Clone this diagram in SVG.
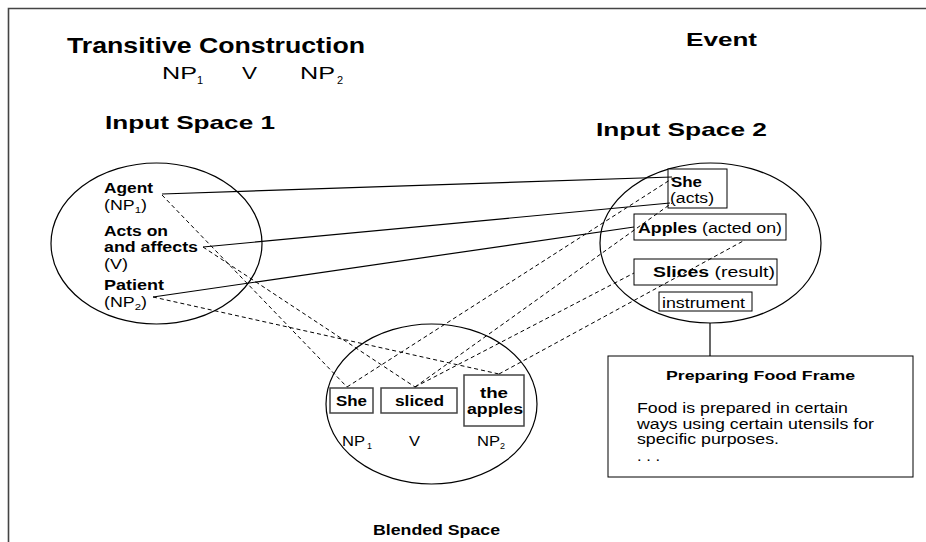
<svg xmlns="http://www.w3.org/2000/svg" width="926" height="542" viewBox="0 0 926 542">
  <style>
    text { font-family: "Liberation Sans", Arial, sans-serif; fill: #000; }
    .b { font-weight: bold; }
    .space { fill: none; stroke: #000; stroke-width: 1.2; }
    .box { fill: #fff; stroke: #000; stroke-width: 1; }
    .bbox { fill: #fff; stroke: #444; stroke-width: 1.5; }
    .solid { stroke: #000; stroke-width: 1.2; fill: none; }
    .dash { stroke: #000; stroke-width: 1; stroke-dasharray: 4 3; fill: none; }
    .sub { font-size: 9px; }
  </style>

  <rect width="926" height="542" fill="#fff"/>
  <!-- slide frame -->
  <path d="M8.5 542 V8.5 H926" fill="none" stroke="#444" stroke-width="1.6"/>

  <!-- headings -->
  <g id="headings">
    <text class="b" x="67" y="53" font-size="22" textLength="298" lengthAdjust="spacingAndGlyphs">Transitive Construction</text>
    <text x="162" y="79" font-size="16" textLength="35" lengthAdjust="spacingAndGlyphs">NP</text>
    <text x="197" y="84" font-size="11">1</text>
    <text x="242" y="79" font-size="16" textLength="15" lengthAdjust="spacingAndGlyphs">V</text>
    <text x="300" y="79" font-size="16" textLength="35" lengthAdjust="spacingAndGlyphs">NP</text>
    <text x="337" y="84" font-size="11">2</text>
    <text class="b" x="686" y="46" font-size="19" textLength="71" lengthAdjust="spacingAndGlyphs">Event</text>
    <text class="b" x="105" y="129" font-size="19" textLength="170" lengthAdjust="spacingAndGlyphs">Input Space 1</text>
    <text class="b" x="596" y="136" font-size="19" textLength="171" lengthAdjust="spacingAndGlyphs">Input Space 2</text>
  </g>

  <!-- Input Space 1 -->
  <g id="input-space-1">
    <ellipse class="space" cx="156.5" cy="243.5" rx="105.5" ry="80.5"/>
    <text class="b" x="104" y="193" font-size="14" textLength="49" lengthAdjust="spacingAndGlyphs">Agent</text>
    <text x="104" y="210" font-size="14" textLength="43" lengthAdjust="spacingAndGlyphs">(NP<tspan class="sub" dy="3">1</tspan><tspan dy="-3">)</tspan></text>
    <text class="b" x="104" y="236" font-size="14" textLength="64" lengthAdjust="spacingAndGlyphs">Acts on</text>
    <text class="b" x="104" y="252" font-size="14" textLength="94" lengthAdjust="spacingAndGlyphs">and affects</text>
    <text x="104" y="269" font-size="14" textLength="24" lengthAdjust="spacingAndGlyphs">(V)</text>
    <text class="b" x="104" y="290" font-size="14" textLength="60" lengthAdjust="spacingAndGlyphs">Patient</text>
    <text x="104" y="307" font-size="14" textLength="43" lengthAdjust="spacingAndGlyphs">(NP<tspan class="sub" dy="3">2</tspan><tspan dy="-3">)</tspan></text>
  </g>

  <!-- Input Space 2 -->
  <g id="input-space-2">
    <ellipse class="space" cx="710.5" cy="243" rx="110.5" ry="80"/>
    <rect class="box" x="668" y="169" width="59" height="39"/>
    <text class="b" x="671" y="187" font-size="14" textLength="31" lengthAdjust="spacingAndGlyphs">She</text>
    <text x="670" y="203" font-size="14" textLength="44" lengthAdjust="spacingAndGlyphs">(acts)</text>
    <rect class="box" x="634" y="214" width="152" height="26"/>
    <text x="638" y="233" font-size="14" textLength="144" lengthAdjust="spacingAndGlyphs"><tspan class="b">Apples</tspan> (acted on)</text>
    <rect class="box" x="634" y="259" width="143" height="26"/>
    <text x="653" y="277" font-size="14" textLength="122" lengthAdjust="spacingAndGlyphs"><tspan class="b">Slices</tspan> (result)</text>
    <rect class="box" x="659" y="292" width="93" height="19"/>
    <text x="662" y="308" font-size="14" textLength="83" lengthAdjust="spacingAndGlyphs">instrument</text>
  </g>

  <!-- Blended Space -->
  <g id="blended-space">
    <ellipse class="space" cx="431.5" cy="404" rx="105.5" ry="80"/>
    <rect class="bbox" x="330" y="388" width="43" height="25"/>
    <text class="b" x="336" y="406" font-size="14" textLength="31" lengthAdjust="spacingAndGlyphs">She</text>
    <rect class="bbox" x="381" y="388" width="76" height="25"/>
    <text class="b" x="395" y="406" font-size="14" textLength="49" lengthAdjust="spacingAndGlyphs">sliced</text>
    <rect class="bbox" x="464" y="375" width="60" height="51"/>
    <text class="b" x="480" y="398" font-size="14" textLength="28" lengthAdjust="spacingAndGlyphs">the</text>
    <text class="b" x="467" y="414" font-size="14" textLength="56" lengthAdjust="spacingAndGlyphs">apples</text>
    <text x="342" y="446" font-size="15" textLength="23" lengthAdjust="spacingAndGlyphs">NP</text>
    <text class="sub" x="367" y="449">1</text>
    <text x="409" y="446" font-size="15" textLength="11" lengthAdjust="spacingAndGlyphs">V</text>
    <text x="477" y="446" font-size="15" textLength="23" lengthAdjust="spacingAndGlyphs">NP</text>
    <text class="sub" x="500" y="449">2</text>
    <text class="b" x="373" y="535" font-size="14" textLength="127" lengthAdjust="spacingAndGlyphs">Blended Space</text>
  </g>

  <!-- Preparing Food Frame -->
  <g id="food-frame">
    <rect class="box" x="608" y="356" width="305" height="121" stroke-width="1.3"/>
    <text class="b" x="666" y="380" font-size="13" textLength="189" lengthAdjust="spacingAndGlyphs">Preparing Food Frame</text>
    <text x="637" y="413" font-size="14" textLength="211" lengthAdjust="spacingAndGlyphs">Food is prepared in certain</text>
    <text x="637" y="429" font-size="14" textLength="237" lengthAdjust="spacingAndGlyphs">ways using certain utensils for</text>
    <text x="637" y="444" font-size="14" textLength="142" lengthAdjust="spacingAndGlyphs">specific purposes.</text>
    <text x="637" y="461" font-size="14" textLength="23" lengthAdjust="spacingAndGlyphs">. . .</text>
  </g>

  <!-- mappings between spaces -->
  <g id="connectors">
    <line class="solid" x1="162" y1="194" x2="672" y2="177"/>
    <line class="solid" x1="203" y1="247" x2="670" y2="203"/>
    <line class="solid" x1="153" y1="297" x2="634" y2="227"/>
    <line class="dash" x1="162" y1="195" x2="347" y2="387"/>
    <line class="dash" x1="203" y1="247" x2="415" y2="387"/>
    <line class="dash" x1="153" y1="297" x2="499" y2="374"/>
    <line class="dash" x1="347" y1="387" x2="673" y2="178"/>
    <line class="dash" x1="415" y1="387" x2="672" y2="203"/>
    <line class="dash" x1="415" y1="387" x2="634" y2="273"/>
    <line class="dash" x1="499" y1="374" x2="745" y2="240"/>
    <line class="solid" x1="710" y1="323" x2="710" y2="356"/>
  </g>
</svg>
